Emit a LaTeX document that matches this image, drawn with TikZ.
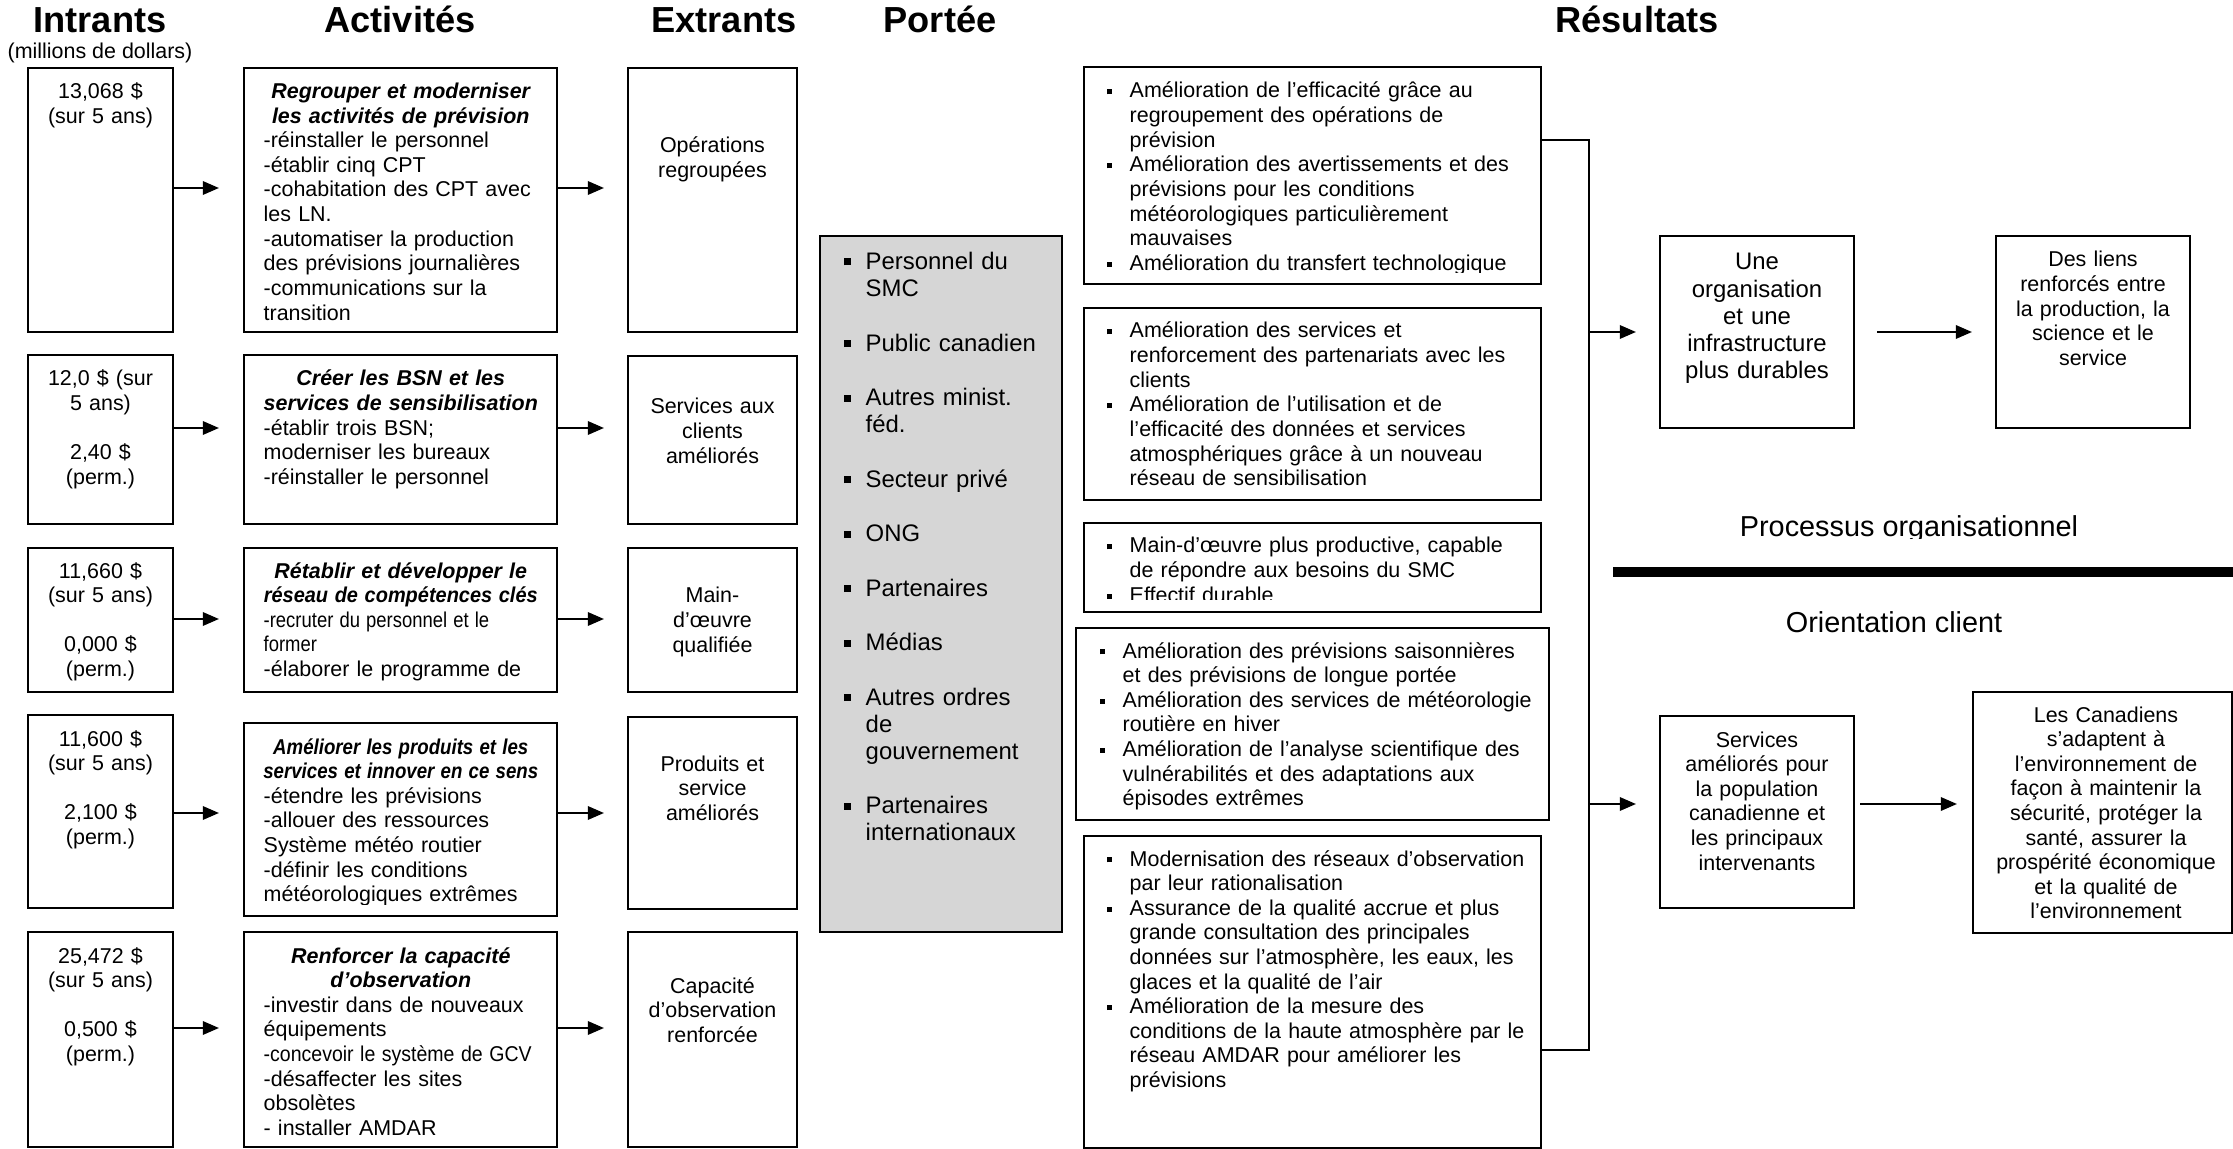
\documentclass[tikz,border=0pt]{standalone}
\usepackage{fontspec}
\setmainfont{Liberation Sans}
\usepackage{graphicx}
\usetikzlibrary{arrows.meta}
\definecolor{pgray}{HTML}{D6D6D6}
\newcommand\sqb[2]{\raisebox{#2}{\rule{#1}{#1}}}
\newcommand\fR{\noindent\hangindent=0.23cm\hangafter=1\makebox[0.23cm][l]{\sqb{1.45pt}{1.0pt}}}
\newcommand\bitemR{\par\fR}
\newcommand\fP{\noindent\hangindent=0.22cm\hangafter=1\makebox[0.22cm][l]{\sqb{2pt}{1.15pt}}}
\newcommand\bitemP{\par\vspace{7.8pt}\fP}
\newcommand\cnd[2]{\scalebox{#1}[1]{#2}}
\newcommand\tl[1]{\makebox[\linewidth][c]{#1}}
\newcommand\bx[6][]{\node[box,#1,minimum width={(#4-#2)*0.01cm},minimum height={(#5-#3)*0.01cm}] (#6) at ({(#2+#4)/2},{(#3+#5)/2}) {};}
\tikzset{
 box/.style={draw=black, line width=0.6pt, inner sep=0pt, outer sep=0pt},
 arr/.style={-{Triangle[length=4.6pt,width=3.8pt]}, line width=0.65pt},
 conn/.style={line width=0.6pt},
 ttl/.style={font=\fontsize{10.3}{12}\selectfont\bfseries, inner sep=0pt, anchor=base},
 f6/.style={font=\fontsize{6.1}{7.0}\selectfont, inner sep=0pt, anchor=base},
 f68/.style={font=\fontsize{6.8}{7.7}\selectfont, inner sep=0pt, anchor=base},
 f8/.style={font=\fontsize{8.2}{9.5}\selectfont, inner sep=0pt, anchor=base},
 ctr/.style={align=center, text width=#1},
 lft/.style={align=left, text width=#1, anchor=base west},
}
\begin{document}
\begin{tikzpicture}[x=0.01cm,y=-0.01cm]
\useasboundingbox (0,0) rectangle (2233,1149);
\fill[white] (0,0) rectangle (2233,1149);

% ---------- titles
\node[ttl] (tIn) at (100,33) {Intrants};
\node[f6] (tInSub) at (100,58.5) {(millions de dollars)};
\node[ttl] (tAct) at (400,33) {Activités};
\node[ttl] (tExt) at (724,33) {Extrants};
\node[ttl] (tPor) at (940,33) {Portée};
\node[ttl] (tRes) at (1637,33) {Résultats};

% ---------- boxes
\bx{28}{68}{173}{332}{i1}
\bx{28}{355}{173}{524}{i2}
\bx{28}{548}{173}{692}{i3}
\bx{28}{715}{173}{908}{i4}
\bx{28}{932}{173}{1147}{i5}
\bx{244}{68}{557}{332}{a1}
\bx{244}{355}{557}{524}{a2}
\bx{244}{548}{557}{692}{a3}
\bx{244}{723}{557}{916}{a4}
\bx{244}{932}{557}{1147}{a5}
\bx{628}{68}{797}{332}{e1}
\bx{628}{356}{797}{524}{e2}
\bx{628}{548}{797}{692}{e3}
\bx{628}{717}{797}{909}{e4}
\bx{628}{932}{797}{1147}{e5}
\bx[fill=pgray]{820}{236}{1062}{932}{por}
\bx{1084}{67}{1541}{284}{r1}
\bx{1084}{308}{1541}{500}{r2}
\bx{1084}{523}{1541}{612}{r3}
\bx{1076}{628}{1549}{820}{r4}
\bx{1084}{836}{1541}{1148}{r5}
\bx{1660}{236}{1854}{428}{o1}
\bx{1996}{236}{2190}{428}{o2}
\bx{1660}{716}{1854}{908}{s1}
\bx{1973}{692}{2232}{933}{s2}

% ---------- left arrows
\coordinate (y1) at (0,188);
\coordinate (y2) at (0,428);
\coordinate (y3) at (0,619);
\coordinate (y4) at (0,813);
\coordinate (y5) at (0,1028);
\foreach \k in {1,...,5}{
  \draw[arr, shorten >=0.25cm] (i\k.east |- y\k) -- (a\k.west |- y\k);
  \draw[arr, shorten >=0.24cm] (a\k.east |- y\k) -- (e\k.west |- y\k);
}

% ---------- right connectors
\coordinate (j1) at (1589,140);
\coordinate (j5) at (1589,1050);
\coordinate (ja) at (1589,332);
\coordinate (jb) at (1589,804);
\draw[conn] (r1.east |- j1) -- (j1) -- (j5) -- (r5.east |- j5);
\draw[arr, shorten >=0.24cm] (ja) -- (o1.west |- ja);
\draw[arr, shorten >=0.24cm] (jb) -- (s1.west |- jb);
\draw[arr, shorten <=0.23cm, shorten >=0.24cm] (o1) -- (o2);
\draw[arr, shorten <=0.06cm, shorten >=0.16cm] (s1.east |- jb) -- (s2.west |- jb);
\coordinate (b1) at (1613,572);
\coordinate (b2) at (2233,572);
\draw[line width=2.6pt] (b1) -- (b2);

% ---------- intrants text
\node[f6, ctr=1.4cm] (ti1) at (100.5,98.5) {13,068 \$\\(sur 5 ans)};
\node[f6, ctr=1.4cm] (ti2) at (100.5,386) {12,0 \$ (sur\\5 ans)\\\mbox{}\\2,40 \$\\(perm.)};
\node[f6, ctr=1.4cm] (ti3) at (100.5,578) {11,660 \$\\(sur 5 ans)\\\mbox{}\\0,000 \$\\(perm.)};
\node[f6, ctr=1.4cm] (ti4) at (100.5,746) {11,600 \$\\(sur 5 ans)\\\mbox{}\\2,100 \$\\(perm.)};
\node[f6, ctr=1.4cm] (ti5) at (100.5,963) {25,472 \$\\(sur 5 ans)\\\mbox{}\\0,500 \$\\(perm.)};

% ---------- activities text
\node[f6, lft=2.74cm] (ta1) at (263,98.5) {{\bfseries\itshape\tl{Regrouper et moderniser}\\\tl{les activités de prévision}\par}-réinstaller le personnel\\-établir cinq CPT\\-cohabitation des CPT avec\\les LN.\\-automatiser la production\\des prévisions journalières\\-communications sur la\\transition};
\node[f6, lft=2.74cm] (ta2) at (263,386) {{\bfseries\itshape\tl{Créer les BSN et les}\\\tl{services de sensibilisation}\par}-établir trois BSN;\\moderniser les bureaux\\-réinstaller le personnel};
\begin{scope}
\clip (244,548) rectangle (557,680);
\node[f6, lft=2.74cm] (ta3) at (263,578) {{\bfseries\itshape\tl{Rétablir et développer le}\\\tl{\cnd{0.93}{réseau de compétences clés}}\par}\cnd{0.86}{-recruter du personnel et le}\\\cnd{0.86}{former}\\-élaborer le programme de};
\end{scope}
\begin{scope}
\clip (244,723) rectangle (557,904);
\node[f6, lft=2.74cm] (ta4) at (263,754) {{\bfseries\itshape\tl{\cnd{0.87}{Améliorer les produits et les}}\\\tl{\cnd{0.87}{services et innover en ce sens}}\par}-étendre les prévisions\\-allouer des ressources\\Système météo routier\\-définir les conditions\\météorologiques extrêmes};
\end{scope}
\node[f6, lft=2.74cm] (ta5) at (263,963) {{\bfseries\itshape\tl{Renforcer la capacité}\\\tl{d’observation}\par}-investir dans de nouveaux\\équipements\\\cnd{0.91}{-concevoir le système de GCV}\\-désaffecter les sites\\obsolètes\\- installer AMDAR};

% ---------- extrants text
\node[f6, ctr=1.6cm] (te1) at (712.5,152.5) {Opérations\\regroupées};
\node[f6, ctr=1.6cm] (te2) at (712.5,414) {Services aux\\clients\\améliorés};
\node[f6, ctr=1.6cm] (te3) at (712.5,603) {Main-\\d’œuvre\\qualifiée};
\node[f6, ctr=1.6cm] (te4) at (712.5,771) {Produits et\\service\\améliorés};
\node[f6, ctr=1.6cm] (te5) at (712.5,993) {Capacité\\d’observation\\renforcée};

% ---------- portee text
\node[f68, lft=2.12cm] (tp) at (843,269.5) {\fP Personnel du\newline SMC\bitemP Public canadien\bitemP Autres minist.\newline féd.\bitemP Secteur privé\bitemP ONG\bitemP Partenaires\bitemP Médias\bitemP Autres ordres\newline de\newline gouvernement\bitemP Partenaires\newline internationaux\par};

% ---------- resultats text
\begin{scope}
\clip (1084,67) rectangle (1541,272.5);
\node[f6, lft=4.3cm] (tr1) at (1106,98) {\fR Amélioration de l’efficacité grâce au\newline regroupement des opérations de\newline prévision\bitemR Amélioration des avertissements et des\newline prévisions pour les conditions\newline météorologiques particulièrement\newline mauvaises\bitemR Amélioration du transfert technologique\par};
\end{scope}
\node[f6, lft=4.3cm] (tr2) at (1106,338) {\fR Amélioration des services et\newline renforcement des partenariats avec les\newline clients\bitemR Amélioration de l’utilisation et de\newline l’efficacité des données et services\newline atmosphériques grâce à un nouveau\newline réseau de sensibilisation\par};
\begin{scope}
\clip (1084,523) rectangle (1541,599);
\node[f6, lft=4.3cm] (tr3) at (1106,553) {\fR Main-d’œuvre plus productive, capable\newline de répondre aux besoins du SMC\bitemR Effectif durable\par};
\end{scope}
\node[f6, lft=4.45cm] (tr4) at (1099,658) {\fR Amélioration des prévisions saisonnières\newline et des prévisions de longue portée\bitemR Amélioration des services de météorologie\newline routière en hiver\bitemR Amélioration de l’analyse scientifique des\newline vulnérabilités et des adaptations aux\newline épisodes extrêmes\par};
\node[f6, lft=4.3cm] (tr5) at (1106,866) {\fR Modernisation des réseaux d’observation\newline par leur rationalisation\bitemR Assurance de la qualité accrue et plus\newline grande consultation des principales\newline données sur l’atmosphère, les eaux, les\newline glaces et la qualité de l’air\bitemR Amélioration de la mesure des\newline conditions de la haute atmosphère par le\newline réseau AMDAR pour améliorer les\newline prévisions\par};

% ---------- right side text
\node[f68, ctr=1.9cm] (to1) at (1757,270) {Une\\organisation\\et une\\infrastructure\\plus durables};
\node[f6, ctr=1.9cm] (to2) at (2093,267) {Des liens\\renforcés entre\\la production, la\\science et le\\service};
\node[f6, ctr=1.9cm] (ts1) at (1757,747) {Services\\améliorés pour\\la population\\canadienne et\\les principaux\\intervenants};
\node[f6, ctr=2.5cm] (ts2) at (2106,722) {Les Canadiens\\s’adaptent à\\l’environnement de\\façon à maintenir la\\sécurité, protéger la\\santé, assurer la\\prospérité économique\\et la qualité de\\l’environnement};
\begin{scope}
\clip (1600,500) rectangle (2233,539);
\node[f8] (tproc) at (1909,537) {Processus organisationnel};
\end{scope}
\node[f8] (tori) at (1894,633) {Orientation client};
\end{tikzpicture}
\end{document}
